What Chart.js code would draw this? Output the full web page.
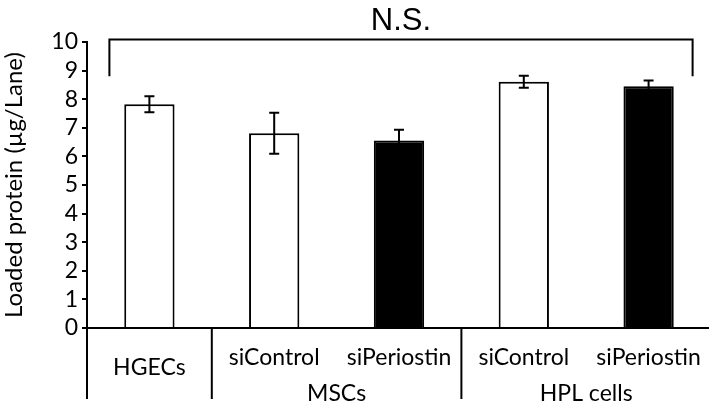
<!DOCTYPE html>
<html>
<head>
<meta charset="utf-8">
<script src="https://cdn.jsdelivr.net/npm/chart.js@4.4.1/dist/chart.umd.min.js"></script>
<style>
  html, body { margin: 0; padding: 0; background: #fff; overflow: hidden; }
  #wrap { width: 711px; height: 410px; }
</style>
</head>
<body>
<div id="wrap"><canvas id="proteinChart"></canvas></div>
<script>
// data
const categories = ['HGECs', 'siControl', 'siPeriostin', 'siControl', 'siPeriostin'];
const groupNames = ['', 'MSCs', 'HPL cells'];
const groupOf = [0, 1, 1, 2, 2];
const loadedProtein = [7.82, 6.81, 6.56, 8.61, 8.45];
const errorSD = [0.28, 0.72, 0.37, 0.21, 0.20];
const barFills = ['#ffffff', '#ffffff', '#000000', '#ffffff', '#000000'];
const yTicks = [0, 1, 2, 3, 4, 5, 6, 7, 8, 9, 10];
const sigLabel = 'N.S.';

const FONT = 'Lato';

// error bars on top of the bars
const errorBars = {
  id: 'errorBars',
  afterDatasetsDraw(chart) {
    const { ctx, scales: { x, y } } = chart;
    ctx.save();
    ctx.strokeStyle = '#000';
    ctx.lineWidth = 2;
    loadedProtein.forEach((v, i) => {
      const cx = x.getPixelForValue(i);
      const top = y.getPixelForValue(v + errorSD[i]);
      const bot = y.getPixelForValue(v - errorSD[i]);
      ctx.beginPath();
      ctx.moveTo(cx, top); ctx.lineTo(cx, bot);
      ctx.moveTo(cx - 5, top); ctx.lineTo(cx + 5, top);
      ctx.moveTo(cx - 5, bot); ctx.lineTo(cx + 5, bot);
      ctx.stroke();
    });
    ctx.restore();
  }
};

// category / group table under the axis, plus the N.S. bracket
const annotations = {
  id: 'annotations',
  afterDraw(chart) {
    const { ctx, scales: { x, y } } = chart;
    const base = y.getPixelForValue(0);
    ctx.save();
    ctx.strokeStyle = '#000';
    ctx.fillStyle = '#000';
    ctx.lineWidth = 2;

    const edges = [x.left];
    for (let i = 1; i < categories.length; i++) {
      if (groupOf[i] !== groupOf[i - 1]) {
        edges.push((x.getPixelForValue(i - 1) + x.getPixelForValue(i)) / 2);
      }
    }
    edges.forEach(px => {
      ctx.beginPath();
      ctx.moveTo(px, base);
      ctx.lineTo(px, base + 71);
      ctx.stroke();
    });

    ctx.font = '23px ' + FONT;
    ctx.textAlign = 'center';
    ctx.textBaseline = 'alphabetic';
    categories.forEach((c, i) => {
      const cx = x.getPixelForValue(i);
      ctx.fillText(c, cx, groupNames[groupOf[i]] ? base + 37 : base + 47);
    });
    groupNames.forEach((g, gi) => {
      if (!g) return;
      const idx = groupOf.map((k, i) => k === gi ? i : -1).filter(i => i >= 0);
      const cx = (x.getPixelForValue(idx[0]) + x.getPixelForValue(idx[idx.length - 1])) / 2;
      ctx.fillText(g, cx, base + 73);
    });

    // bracket over all bars
    const bl = x.getPixelForValue(0) - 40;
    const br = x.getPixelForValue(categories.length - 1) + 44;
    const bt = y.getPixelForValue(10) - 2.5;
    const bb = y.getPixelForValue(8.8);
    ctx.beginPath();
    ctx.moveTo(bl, bb); ctx.lineTo(bl, bt); ctx.lineTo(br, bt); ctx.lineTo(br, bb);
    ctx.stroke();
    ctx.font = '31px "Liberation Sans"';
    ctx.fillText(sigLabel, (bl + br) / 2, bt - 10);
    ctx.restore();
  }
};

new Chart(document.getElementById('proteinChart'), {
  type: 'bar',
  data: {
    labels: categories,
    datasets: [{
      data: loadedProtein,
      backgroundColor: barFills,
      borderColor: '#000',
      borderWidth: 2,
      barPercentage: 0.403,
      categoryPercentage: 1
    }]
  },
  options: {
    responsive: true,
    maintainAspectRatio: false,
    animation: false,
    layout: { padding: { top: 42, right: 0, bottom: 0, left: 0 } },
    plugins: { legend: { display: false }, tooltip: { enabled: false } },
    scales: {
      x: {
        grid: { display: false },
        ticks: { display: false },
        border: { color: '#000', width: 2 },
        afterFit(scale) { scale.height = 82; }
      },
      y: {
        min: 0,
        max: 10,
        afterBuildTicks(scale) { scale.ticks = yTicks.map(v => ({ value: v })); },
        ticks: { color: '#000', font: { family: FONT, size: 23 }, padding: 4, autoSkip: false },
        grid: { drawOnChartArea: false, tickLength: 5, color: '#000', lineWidth: 2 },
        border: { color: '#000', width: 2 },
        title: {
          display: true,
          text: 'Loaded protein (µg/Lane)',
          color: '#000',
          font: { family: FONT, size: 24 },
          padding: { top: 0, bottom: 0 }
        },
        afterFit(scale) { scale.width = 87; }
      }
    }
  },
  plugins: [errorBars, annotations]
});
</script>
</body>
</html>
